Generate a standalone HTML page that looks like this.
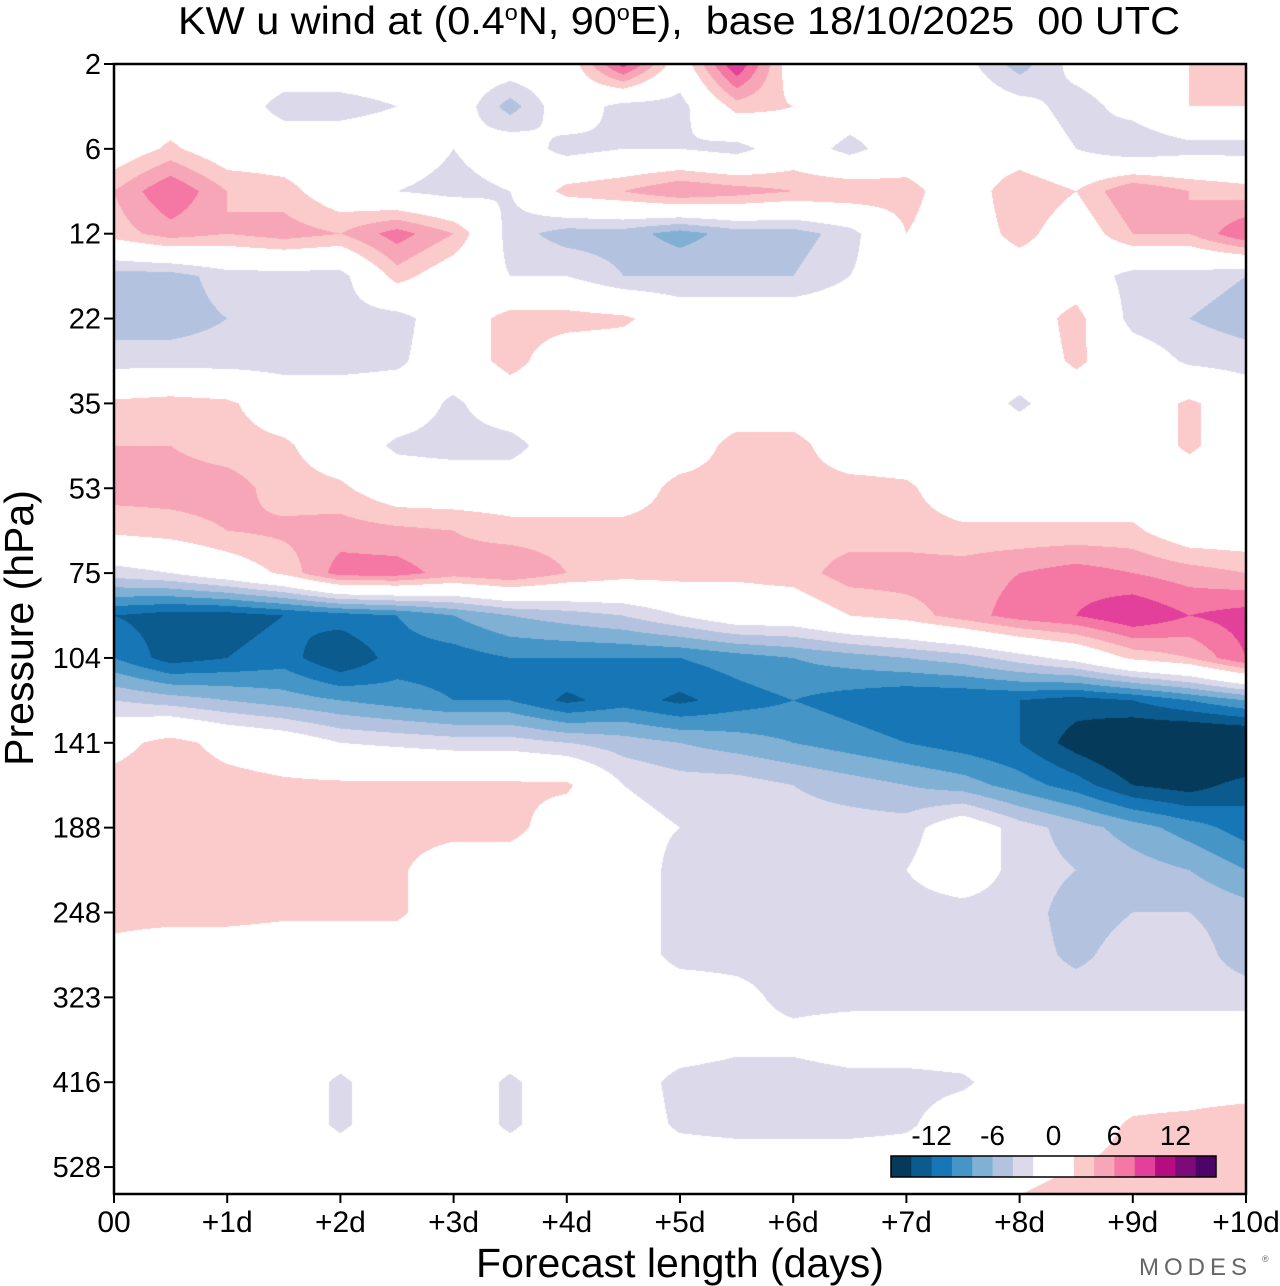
<!DOCTYPE html>
<html><head><meta charset="utf-8"><style>
body{margin:0;background:#fff;width:1280px;height:1286px;overflow:hidden;font-family:"Liberation Sans",sans-serif}
#wrap{position:relative;width:1280px;height:1286px}
#field{position:absolute;left:114px;top:64px}
svg{position:absolute;left:0;top:0}
</style></head><body>
<div id="wrap">
<canvas id="field" width="1132" height="1130"></canvas>
<svg id="ax" width="1280" height="1286"></svg>
</div>
<script>
// pressure levels (tick labels) – one per model-level index
const levelLabels=["2","6","12","22","35","53","75","104","141","188","248","323","416","528"];
const dayLabels=["00","+1d","+2d","+3d","+4d","+5d","+6d","+7d","+8d","+9d","+10d"];
// forecast times (days) of data columns
const times=[0,0.5,1,1.5,2,2.5,3,3.5,4,4.5,5,5.5,6,6.5,7,7.5,8,8.5,9,9.5,10];
// level indices of data rows
const rowLevels=[0,0.5,1,1.5,2,2.5,3,3.5,4,4.5,5,5.5,6,6.5,7,7.5,8,8.5,9,9.5,10,10.5,11,11.5,12,12.5,13,13.5];
// u wind (m/s), one row per level index
const u00=[0,0,0,0,0,0,0,0,0,9,0,10,0,0,0,-1,-5,-1,0,2,3];
const u05=[0,0,0,-3,-3,-2,0,-5,0,-3,-3,3,2,0,0,0,-1,-3,-1,2,2];
const u10=[0,2.5,0,0,0,0,-2,0,-3,-2,-2,-3,0,-3,0,0,0,-2,-4,-3,-3];
const u15=[4,8,4,3,0,-2,-3,-2,3,4,6,5,4,4,3,0,4,2,6,4,3];
const u20=[3,5,4,5,4,7,4,-3,-5,-5,-7,-5,-5,-3,2,0,3,0,4,4,8];
const u25=[-5,-5,-3,-3,-3,3,0,-2,-2,-4,-4,-4,-4,-2,0,0,0,0,-3,-3,-4];
const u30=[-5,-5,-4,-3,-3,-3,0,3,3,2.5,0,0,0,0,0,0,0,3,-3,-4,-5];
const u35=[-3,-3,-3,-3,-3,-2.5,0,3,0,0,0,0,0,0,0,0,0,2.5,0,-2.5,-3];
const u40=[2.5,3,2.5,0,0,0,-2.5,0,0,0,0,0,0,0,0,0,-2.5,0,0,2.5,0];
const u45=[4,4,3,2.5,0,-2.5,-3,-3,0,0,0,3,3,0,0,0,0,0,0,2.5,0];
const u50=[5,5,5,3,2.5,0,0,0,0,0,3,3,3,3,2.5,0,0,0,0,0,0];
const u55=[2.5,3,4,4.5,5,4.5,4,3,3,3,3,3,3,3,3,2.5,2.5,2.5,2.5,0,0];
const u60=[-3,-2,0,2.5,7,7,5,6,4,3,3,2.5,3,5,5,5,6,7,6,5,4];
const u65=[-12,-13,-13,-12,-11,-10,-8,-6,-5,-4,-2,0,0,2,3,5,7,8,10,8,9];
const u70=[-10,-13,-12,-11,-14,-11,-11,-10,-10,-10,-10,-9,-8,-7,-6,-5,-3,-1,2.5,4,8];
const u75=[-4,-5,-6,-7,-8,-9,-10,-10,-12.5,-11,-12.5,-11,-10,-11,-12,-12,-12,-13,-12,-10,-8];
const u80=[1,3,1,0,-2,-2.5,-3,-3,-4,-5,-6,-7,-8,-9,-10,-11,-12,-15,-17,-18,-18];
const u85=[3,3.5,3,2.5,2.5,2.5,2.5,2.5,2.5,-2,-3,-3,-4,-5,-6,-7,-9,-11,-14,-15,-13];
const u90=[3,3,3,3,3,3,3,3,0,-1,-2,-3,-3,-3,-3,0,-3,-5,-7,-9,-11];
const u95=[3,3,3,3,3,2.5,0,0,0,0,-3,-3,-3,-3,-2,0,-3,-4,-5,-6,-8];
const u100=[3,3,3,2.5,2.5,2.5,0,0,0,0,-3,-3,-3,-3,-3,-3,-3,-5,-4,-4,-5];
const u105=[1,0,0,0,0,0,0,0,0,0,-3,-3,-3,-3,-3,-3,-3,-4.5,-3,-3,-5];
const u110=[0,0,0,0,0,0,0,0,0,0,0,-1,-3,-3,-3,-3,-3,-3,-3,-3,-3];
const u115=[0,0,0,0,0,0,0,0,0,0,0,-1,-1,0,0,0,0,0,0,0,0];
const u120=[0,0,0,0,-2.5,0,0,-2.5,0,0,-3,-3.5,-3.5,-3,-3,-2.5,0,0,0,0,0];
const u125=[0,0,0,0,-2.5,0,0,-2.5,0,0,-2.5,-3,-3,-3,-2.5,0,0,0,2.5,3,4];
const u130=[0,0,0,0,0,0,0,0,0,0,0,0,0,0,0,0,0,2,3,4,4];
const u135=[0,0,0,0,0,0,0,0,0,0,0,2.5,2.5,2.5,2.5,2.5,3,5,4,3,3];
const windRows=[u00,u05,u10,u15,u20,u25,u30,u35,u40,u45,u50,u55,u60,u65,u70,u75,u80,u85,u90,u95,u100,u105,u110,u115,u120,u125,u130,u135];
const cbarLabels=["-12","-6","0","6","12"];
const cbarLabelValues=[-12,-6,0,6,12];
const levelEdges=[-14,-12,-10,-8,-6,-4,-2,0,2,4,6,8,10,12,14];
const colors=["#053a5a","#0b5b8e","#1776b5","#4596c7","#80b0d4","#b3c3df","#dcdaea","#ffffff","#ffffff","#fbcaca","#f7a6b7","#f577a3","#e2409a","#b60c80","#7c0a78","#4d0468"];

const PL=114,PT=64,PW=1132,PH=1130,LEVSTEP=84.85;
const xS=t=>PL+t/10*PW;
const yS=l=>PT+l*LEVSTEP;

// field
const cv=document.getElementById('field'),ctx=cv.getContext('2d');
const rgb=colors.map(c=>[parseInt(c.substr(1,2),16),parseInt(c.substr(3,2),16),parseInt(c.substr(5,2),16)]);
function binOf(v){let i=0;while(i<levelEdges.length&&v>=levelEdges[i])i++;return i;}
const img=ctx.createImageData(PW,PH);
const tmax=times[times.length-1];
for(let py=0;py<PH;py++){
  const lev=(py+0.5)/LEVSTEP;
  let r=0;while(r<rowLevels.length-2&&rowLevels[r+1]<lev)r++;
  let fy=(lev-rowLevels[r])/(rowLevels[r+1]-rowLevels[r]);fy=Math.max(0,Math.min(1,fy));
  const A=windRows[r],B=windRows[r+1];
  for(let px=0;px<PW;px++){
    const t=(px+0.5)/PW*tmax;
    let c=0;while(c<times.length-2&&times[c+1]<t)c++;
    const fx=(t-times[c])/(times[c+1]-times[c]);
    const v=(A[c]*(1-fx)+A[c+1]*fx)*(1-fy)+(B[c]*(1-fx)+B[c+1]*fx)*fy;
    const k=rgb[binOf(v)],o=(py*PW+px)*4;
    img.data[o]=k[0];img.data[o+1]=k[1];img.data[o+2]=k[2];img.data[o+3]=255;
  }
}
ctx.putImageData(img,0,0);

// axes
const NS='http://www.w3.org/2000/svg',svg=document.getElementById('ax');
function el(tag,attrs,txt){const e=document.createElementNS(NS,tag);for(const k in attrs)e.setAttribute(k,attrs[k]);if(txt!==undefined)e.textContent=txt;svg.appendChild(e);return e;}
let e;
e=el('rect',{x:PL,y:PT,width:PW,height:PH,fill:'none',stroke:'#000','stroke-width':2.5});


levelLabels.forEach((lab,i)=>{
  const y=yS(i);
  e=el('line',{x1:PL-10,x2:PL,y1:y,y2:y,stroke:'#000','stroke-width':2});
  
  
  e=el('text',{x:PL-13,y:y+10,'text-anchor':'end','font-size':29,fill:'#000'},lab);
  
  
});
dayLabels.forEach((lab,i)=>{
  const x=xS(i);
  e=el('line',{x1:x,x2:x,y1:PT+PH,y2:PT+PH+9,stroke:'#000','stroke-width':2});
  
  
  e=el('text',{x:x,y:1232,'text-anchor':'middle','font-size':30,fill:'#000'},lab);
  
  
});
e=el('text',{x:680,y:1277,'text-anchor':'middle','font-size':41,fill:'#000'},'Forecast length (days)');


e=el('text',{x:0,y:0,'text-anchor':'middle','font-size':41,fill:'#000',transform:'translate(33,628) rotate(-90)'},'Pressure (hPa)');


const tt=el('text',{x:178,y:34,'font-size':39,fill:'#000',textLength:1002,lengthAdjust:'spacingAndGlyphs'});


tt.innerHTML='KW u wind at (0.4<tspan dy="-14" font-size="22">o</tspan><tspan dy="14">N, 90</tspan><tspan dy="-14" font-size="22">o</tspan><tspan dy="14" xml:space="preserve">E),  base 18/10/2025  00 UTC</tspan>';
e=el('text',{x:1252,y:1275,'text-anchor':'end','font-size':24,fill:'#666','letter-spacing':'5'},'MODES');


e=el('text',{x:1262,y:1262,'font-size':9,fill:'#666'},'®');


// colorbar
const CB0=891,CB1=1216,CBY=1156,CBH=21,sw=(CB1-CB0)/colors.length;
const cbX=v=>CB0+(v-levelEdges[0])/2*sw+sw;
colors.forEach((c,i)=>{
  e=el('rect',{x:CB0+i*sw,y:CBY,width:sw+0.5,height:CBH,fill:c});
  
  
});
e=el('rect',{x:CB0,y:CBY,width:CB1-CB0,height:CBH,fill:'none',stroke:'#000','stroke-width':1.5});


cbarLabels.forEach((lab,i)=>{
  e=el('text',{x:cbX(cbarLabelValues[i]),y:1145,'text-anchor':'middle','font-size':28,fill:'#000'},lab);
  
  
});
</script>
</body></html>
